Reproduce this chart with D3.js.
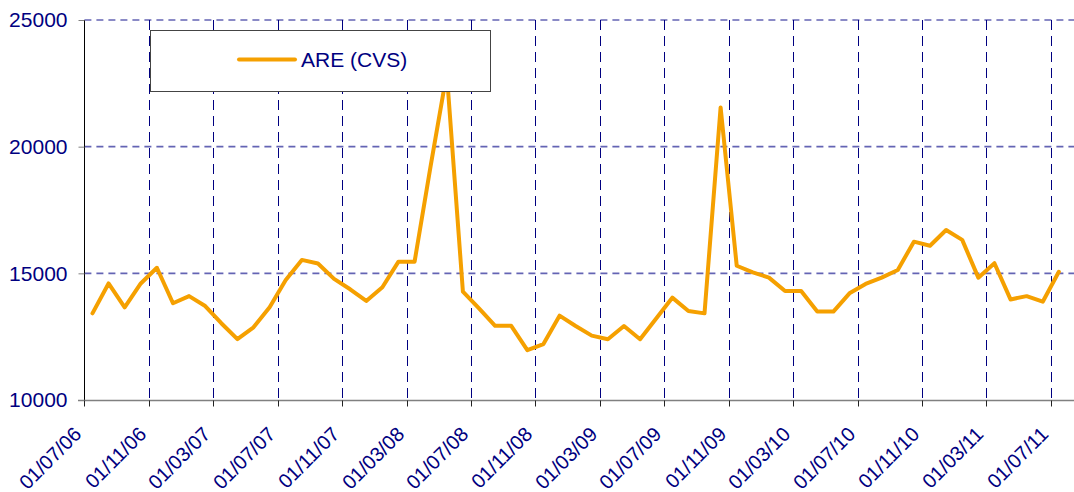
<!DOCTYPE html>
<html>
<head>
<meta charset="utf-8">
<script src="https://cdn.jsdelivr.net/npm/d3@7/dist/d3.min.js"></script>
<style>
  html, body { margin: 0; padding: 0; background: #fff; }
  svg { display: block; font-family: "Liberation Sans", Arial, sans-serif; }
</style>
</head>
<body>
<svg id="chart" width="1074" height="492"></svg>
<script>
// ---- data (monthly, from 01/07/06 to 01/07/11) ----
const seriesName = "ARE (CVS)";
const values = [
  13420, 14600, 13660, 14600, 15220, 13820, 14100, 13710, 13030, 12400,
  12870, 13660, 14740, 15530, 15390, 14780, 14370, 13910, 14450, 15460,
  15460, 19250, 22900, 14280, 13620, 12930, 12930, 11970, 12210, 13330,
  12920, 12540, 12400, 12920, 12400, 13220, 14040, 13510, 13420, 21550,
  15300, 15040, 14830, 14300, 14300, 13490, 13490, 14210, 14580, 14830,
  15130, 16250, 16090, 16710, 16320, 14830, 15400, 13970, 14100, 13880,
  15060
];
const tickLabels = [
  "01/07/06", "01/11/06", "01/03/07", "01/07/07", "01/11/07", "01/03/08",
  "01/07/08", "01/11/08", "01/03/09", "01/07/09", "01/11/09", "01/03/10",
  "01/07/10", "01/11/10", "01/03/11", "01/07/11"
];
const tickMonthStep = 4;           // one label every 4 months
const yTicks = [10000, 15000, 20000, 25000];

// ---- layout ----
const svg = d3.select("#chart");
const mLeft = 84.4, mTop = 20, mBottom = 400;
const monthPx = (1050.8 - 84.4) / 60;
const nMonths = 62;
const x = d3.scaleLinear().domain([0, nMonths]).range([mLeft, mLeft + nMonths * monthPx]);
const y = d3.scaleLinear().domain([10000, 25000]).range([mBottom, mTop]);
const navy = "#000080";
const orange = "#F5A000";

const tickIdx = tickLabels.map((d, i) => i * tickMonthStep);

// horizontal grid
svg.append("g").selectAll("line").data(yTicks.filter(v => v > 10000)).join("line")
  .attr("x1", mLeft).attr("x2", 1074)
  .attr("y1", d => y(d)).attr("y2", d => y(d))
  .attr("stroke", "#6464b4").attr("stroke-width", 1.6).attr("stroke-dasharray", "7,5");

// vertical grid
svg.append("g").selectAll("line").data(tickIdx.slice(1)).join("line")
  .attr("x1", d => Math.round(x(d)) + 0.5).attr("x2", d => Math.round(x(d)) + 0.5)
  .attr("y1", mTop).attr("y2", mBottom)
  .attr("stroke", navy).attr("stroke-width", 1).attr("stroke-dasharray", "10,6");

// y axis
const yAxis = d3.axisLeft(y).tickValues(yTicks).tickSize(6).tickPadding(11)
  .tickFormat(d3.format("d"));
const gy = svg.append("g").attr("transform", `translate(${Math.round(mLeft) + 0.5},0)`).call(yAxis);
gy.select(".domain").attr("stroke", "#000").attr("d", `M0,${mTop}V${mBottom}`);
gy.selectAll(".tick line").attr("stroke", "#808080");
gy.selectAll(".tick text").attr("fill", navy).style("font-size", "21px")
  .style("font-family", '"Liberation Sans", Arial, sans-serif');

// x axis
const xAxis = d3.axisBottom(x).tickValues(tickIdx).tickSize(6).tickFormat((d, i) => tickLabels[i]);
const gx = svg.append("g").attr("transform", `translate(0,${mBottom + 0.5})`).call(xAxis);
gx.select(".domain").attr("stroke", "#808080").attr("stroke-width", 1.5).attr("d", `M78,0H1074`);
gx.selectAll(".tick").attr("transform", d => `translate(${Math.round(x(d)) + 0.5},0)`);
gx.selectAll(".tick line").attr("stroke", "#222");
gx.selectAll(".tick text")
  .attr("fill", navy)
  .style("font-size", "20px")
  .style("font-family", '"Liberation Sans", Arial, sans-serif')
  .attr("text-anchor", "end")
  .attr("x", 0).attr("y", 0).attr("dy", 0)
  .attr("transform", "translate(-2,35) rotate(-45)");

// line
const line = d3.line().x((d, i) => x(i + 0.5)).y(d => y(d));
svg.append("path").datum(values)
  .attr("fill", "none").attr("stroke", orange).attr("stroke-width", 4)
  .attr("stroke-linejoin", "round").attr("stroke-linecap", "round")
  .attr("d", line);

// legend
const lg = svg.append("g");
lg.append("rect").attr("x", 150.5).attr("y", 30.5).attr("width", 340).attr("height", 61)
  .attr("fill", "#fff").attr("stroke", "#444").attr("stroke-width", 1);
lg.append("line").attr("x1", 239).attr("x2", 295).attr("y1", 59.5).attr("y2", 59.5)
  .attr("stroke", orange).attr("stroke-width", 4).attr("stroke-linecap", "round");
lg.append("text").attr("x", 301).attr("y", 67).attr("fill", navy)
  .style("font-size", "21px").text(seriesName);
</script>
</body>
</html>
